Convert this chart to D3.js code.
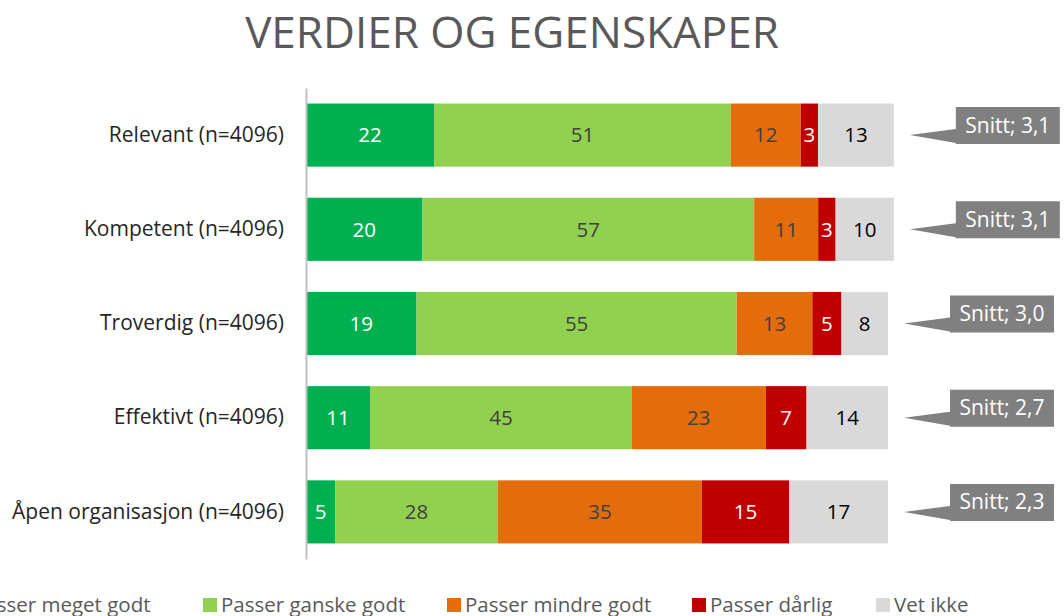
<!DOCTYPE html>
<html>
<head>
<meta charset="utf-8">
<script src="https://cdn.jsdelivr.net/npm/d3@7"></script>
<style>
  body { margin: 0; background: #fff; }
  svg { font-family: "Open Sans", "Noto Sans", sans-serif; }
</style>
</head>
<body>
<script>
// data
var categories = ["Relevant (n=4096)", "Kompetent (n=4096)", "Troverdig (n=4096)", "Effektivt (n=4096)", "Åpen organisasjon (n=4096)"];
var seriesNames = ["Passer meget godt", "Passer ganske godt", "Passer mindre godt", "Passer dårlig", "Vet ikke"];
var megetGodt  = [22, 20, 19, 11, 5];
var ganskeGodt = [51, 57, 55, 45, 28];
var mindreGodt = [12, 11, 13, 23, 35];
var darlig     = [3, 3, 5, 7, 15];
var vetIkke    = [13, 10, 8, 14, 17];
var snitt      = ["3,1", "3,1", "3,0", "2,7", "2,3"];

var colors = ["#00B050", "#92D050", "#E46C0A", "#C00000", "#D9D9D9"];
var labelColors = ["#ffffff", "#404040", "#404040", "#ffffff", "#000000"];

var W = 1064, H = 616;
var svg = d3.select("body").append("svg")
  .attr("width", W)
  .attr("height", H);

var rows = categories.map(function(c, i) {
  return { cat: c, vals: [megetGodt[i], ganskeGodt[i], mindreGodt[i], darlig[i], vetIkke[i]], snitt: snitt[i] };
});

var x = d3.scaleLinear().domain([0, 100]).range([306, 888]);
var y = d3.scaleBand().domain(categories).range([88, 559]).paddingInner(0.33).paddingOuter(0.165);

// title
svg.append("text")
  .attr("x", 512)
  .attr("y", 48)
  .attr("text-anchor", "middle")
  .style("font-size", "44px")
  .style("fill", "#595959")
  .text("VERDIER OG EGENSKAPER");

// bars
rows.forEach(function(r) {
  var acc = 0;
  var g = svg.append("g");
  r.vals.forEach(function(v, j) {
    var x0 = x(acc), x1 = x(acc + v);
    g.append("rect")
      .attr("x", x0)
      .attr("y", y(r.cat))
      .attr("width", x1 - x0)
      .attr("height", y.bandwidth())
      .style("fill", colors[j]);
    g.append("text")
      .attr("x", (x0 + x1) / 2)
      .attr("y", y(r.cat) + y.bandwidth() / 2)
      .attr("dy", "0.36em")
      .attr("text-anchor", "middle")
      .style("font-size", "20.5px")
      .style("fill", labelColors[j])
      .text(v);
    acc += v;
  });
  r.total = acc;
});

// axis
var yAxis = svg.append("g")
  .attr("transform", "translate(306,0)")
  .call(d3.axisLeft(y).tickSize(0).tickPadding(22));
yAxis.select(".domain").attr("stroke", "#BFBFBF").attr("stroke-width", 2);
yAxis.selectAll("text")
  .style("font-family", "'Open Sans', sans-serif")
  .style("font-size", "21px")
  .style("fill", "#262626");

// callouts
rows.forEach(function(r) {
  var cy = y(r.cat) + y.bandwidth() / 2;
  var tipX = x(r.total) + 16;
  var bx = tipX + 46;
  var g = svg.append("g");
  g.append("text")
    .attr("x", bx + 52)
    .attr("y", cy - 10)
    .attr("dy", "0.36em")
    .attr("text-anchor", "middle")
    .style("font-size", "21px")
    .style("fill", "#ffffff")
    .text("Snitt; " + r.snitt);
  var bw = 104;
  g.insert("path", "text")
    .attr("d", "M" + bx + "," + (cy - 28) + "H" + (bx + bw) + "V" + (cy + 9) + "H" + bx +
      "V" + (cy + 8) + "L" + tipX + "," + cy + "L" + bx + "," + (cy - 6) + "Z")
    .style("fill", "#808080");
});

// legend
var legendX = [-45, 203, 447, 692, 876];
var legend = svg.append("g");
seriesNames.forEach(function(s, i) {
  legend.append("rect")
    .attr("x", legendX[i])
    .attr("y", 598)
    .attr("width", 14)
    .attr("height", 14)
    .style("fill", colors[i]);
  legend.append("text")
    .attr("x", legendX[i] + 18)
    .attr("y", 605)
    .attr("dy", "0.36em")
    .style("font-size", "20.5px")
    .style("fill", "#595959")
    .text(s);
});
</script>
</body>
</html>
